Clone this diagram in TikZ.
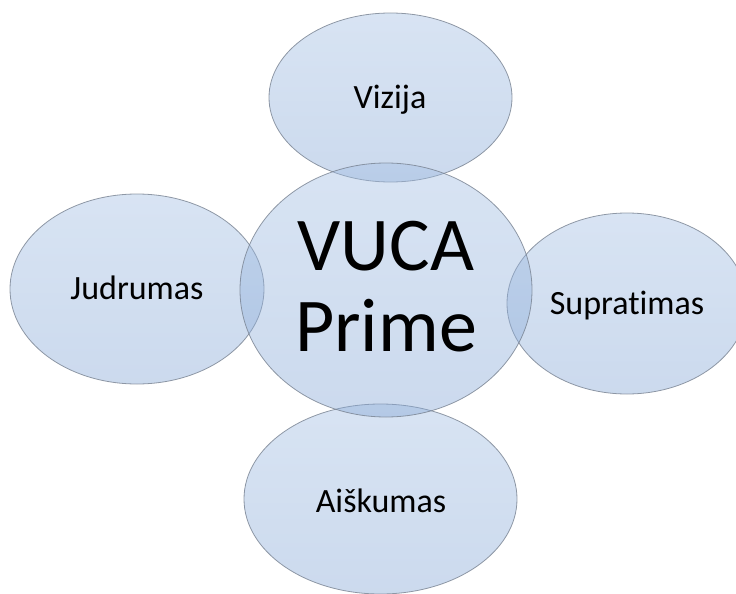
\documentclass[tikz,border=0pt]{standalone}
\usepackage{fontspec}
\setmainfont[Ligatures=CommonOff]{Carlito}
\usetikzlibrary{shapes.geometric}
\definecolor{bubbletop}{RGB}{162,190,227}
\definecolor{bubblebot}{RGB}{132,166,213}
\definecolor{bubbleline}{RGB}{120,130,145}
\begin{document}
\begin{tikzpicture}[x=1pt,y=-1pt,
  bubble/.style={ellipse, inner sep=0pt, top color=bubbletop, bottom color=bubblebot,
    fill opacity=0.42, draw=bubbleline, draw opacity=0.8, line width=0.8pt},
  lbl/.style={font=\fontsize{34}{40}\selectfont, text=black, anchor=base, inner sep=0pt},
  biglbl/.style={font=\fontsize{76}{81}\selectfont, text=black, anchor=base, inner sep=0pt}]
  \useasboundingbox (0,0) rectangle (736,594);
  \clip (0,0) rectangle (736,594);
  % five overlapping bubbles
  \node[bubble, minimum width=243, minimum height=169] (viz) at (390.5,97.5) {};
  \node[bubble, minimum width=254, minimum height=190] (jud) at (137,289) {};
  \node[bubble, minimum width=240, minimum height=181] (sup) at (627,303.5) {};
  \node[bubble, minimum width=273, minimum height=190] (aisk) at (380.5,499) {};
  \node[bubble, minimum width=292, minimum height=254] (vuca) at (386,290) {};
  % labels
  \node[lbl] (tviz) at (390,108) {Vizija};
  \node[lbl] (tjud) at (137,299) {Judrumas};
  \node[lbl] (tsup) at (627,314) {Supratimas};
  \node[lbl] (taisk) at (381,512) {Aiškumas};
  \node[biglbl] (tvuca) at (386,270.5) {VUCA};
  \node[biglbl] (tprime) at (386,351.5) {Prime};
\end{tikzpicture}
\end{document}
